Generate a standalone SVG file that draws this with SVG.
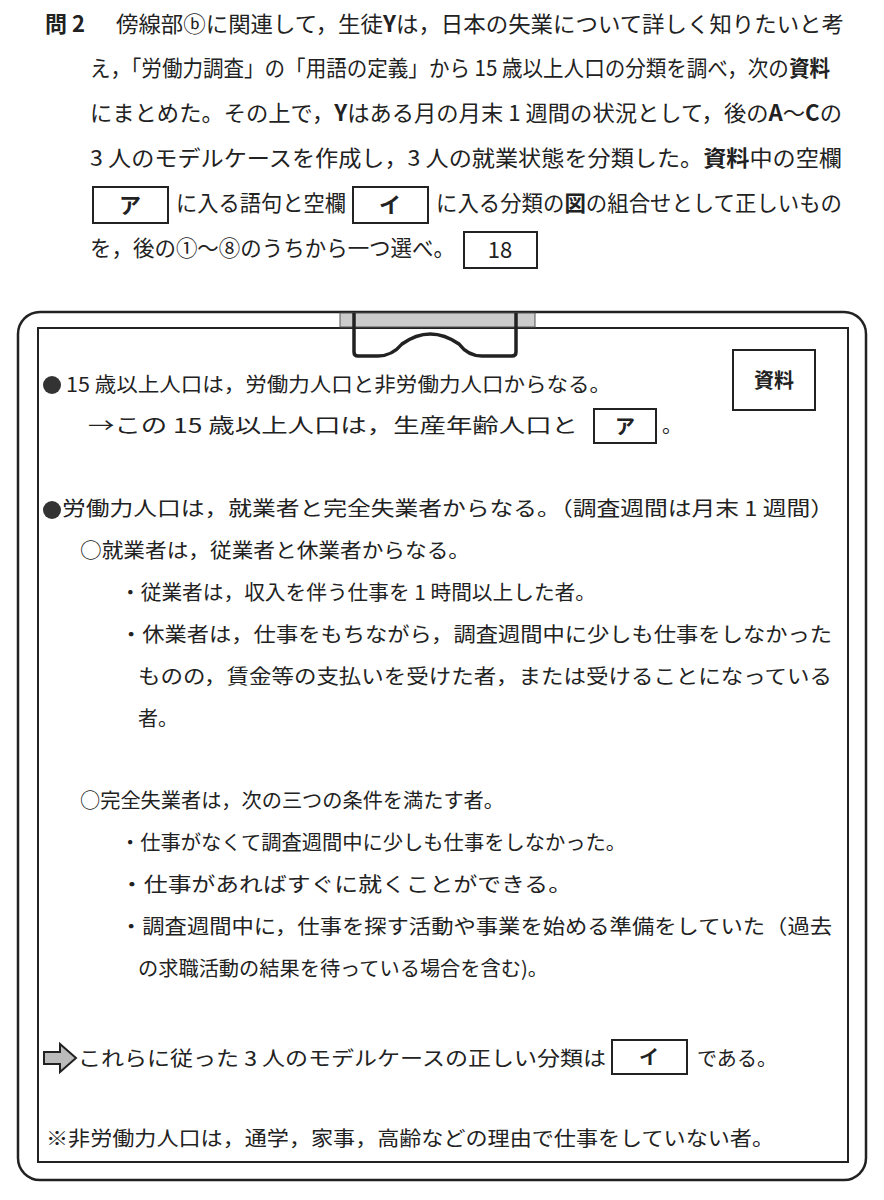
<svg xmlns="http://www.w3.org/2000/svg" width="884" height="1200" viewBox="0 0 884 1200">
<style>
text{font-family:"Noto Sans CJK JP","Noto Sans CJK SC",sans-serif;fill:#222;}
.h{font-size:22px;}
.b{font-size:20px;}
.bold{font-weight:bold;}
.bx{fill:#fff;stroke:#222;stroke-width:2;}
</style>
<rect width="884" height="1200" fill="#fff"/>
<g id="question">
<text class="h bold" x="45" y="32">問 2</text>
<text class="h" x="116" y="32" textLength="728" lengthAdjust="spacingAndGlyphs">傍線部ⓑに関連して，生徒<tspan class="bold">Y</tspan>は，日本の失業について詳しく知りたいと考</text>
<text class="h" x="90" y="76" textLength="740" lengthAdjust="spacingAndGlyphs">え，「労働力調査」の「用語の定義」から 15 歳以上人口の分類を調べ，次の<tspan class="bold">資料</tspan></text>
<text class="h" x="90" y="121" textLength="752" lengthAdjust="spacingAndGlyphs">にまとめた。その上で，<tspan class="bold">Y</tspan>はある月の月末 1 週間の状況として，後の<tspan class="bold">A</tspan>～<tspan class="bold">C</tspan>の</text>
<text class="h" x="90" y="166" textLength="752" lengthAdjust="spacingAndGlyphs">3 人のモデルケースを作成し，3 人の就業状態を分類した。<tspan class="bold">資料</tspan>中の空欄</text>
<rect class="bx" x="93" y="187" width="75" height="36"/>
<text class="h bold" x="130" y="213" text-anchor="middle">ア</text>
<text class="h" x="176" y="211" textLength="170" lengthAdjust="spacingAndGlyphs">に入る語句と空欄</text>
<rect class="bx" x="353" y="187" width="75" height="36"/>
<text class="h bold" x="390" y="213" text-anchor="middle">イ</text>
<text class="h" x="436" y="211" textLength="406" lengthAdjust="spacingAndGlyphs">に入る分類の<tspan class="bold">図</tspan>の組合せとして正しいもの</text>
<text class="h" x="90" y="256" textLength="365" lengthAdjust="spacingAndGlyphs">を，後の①～⑧のうちから一つ選べ。</text>
<rect class="bx" x="464" y="232" width="73" height="36"/>
<text class="h" x="500" y="258" text-anchor="middle">18</text>
</g>
<g id="board">
<rect x="18" y="312" width="848" height="868" rx="22" fill="none" stroke="#222" stroke-width="2.5"/>
<rect x="38" y="328" width="810" height="834" fill="none" stroke="#222" stroke-width="2"/>
<rect x="340" y="313" width="195" height="14" fill="#ccc" stroke="#555" stroke-width="1"/>
<path d="M354 313 V352 Q354 356 358 356 H378 Q392 356 402 344 Q430 324 459 344 Q468 356 482 356 H512 Q516 356 516 352 V313" fill="none" stroke="#222" stroke-width="3.5"/>
</g>
<g id="shiryo">
<rect class="bx" x="733" y="350" width="82" height="60"/>
<text class="b bold" x="774" y="388" text-anchor="middle">資料</text>
</g>
<g id="content" class="b">
<circle cx="52" cy="385" r="9" fill="#333"/>
<text class="b" x="66" y="392" textLength="545" lengthAdjust="spacingAndGlyphs">15 歳以上人口は，労働力人口と非労働力人口からなる。</text>
<text class="b" x="88" y="433" textLength="490" lengthAdjust="spacingAndGlyphs">→この 15 歳以上人口は，生産年齢人口と</text>
<rect class="bx" x="594" y="409" width="62" height="34"/>
<text class="b bold" x="625" y="434" text-anchor="middle">ア</text>
<text class="b" x="662" y="433">。</text>
<circle cx="52" cy="510" r="9" fill="#333"/>
<text class="b" x="62" y="516" textLength="772" lengthAdjust="spacingAndGlyphs">労働力人口は，就業者と完全失業者からなる。（調査週間は月末 1 週間）</text>
<text class="b" x="80" y="558" textLength="390" lengthAdjust="spacingAndGlyphs">○就業者は，従業者と休業者からなる。</text>
<text class="b" x="120" y="600" textLength="476" lengthAdjust="spacingAndGlyphs">・従業者は，収入を伴う仕事を 1 時間以上した者。</text>
<text class="b" x="120" y="642" textLength="712" lengthAdjust="spacingAndGlyphs">・休業者は，仕事をもちながら，調査週間中に少しも仕事をしなかった</text>
<text class="b" x="138" y="684" textLength="694" lengthAdjust="spacingAndGlyphs">ものの，賃金等の支払いを受けた者，または受けることになっている</text>
<text class="b" x="138" y="726">者。</text>
<text class="b" x="80" y="808" textLength="424" lengthAdjust="spacingAndGlyphs">○完全失業者は，次の三つの条件を満たす者。</text>
<text class="b" x="120" y="850" textLength="506" lengthAdjust="spacingAndGlyphs">・仕事がなくて調査週間中に少しも仕事をしなかった。</text>
<text class="b" x="120" y="892" textLength="452" lengthAdjust="spacingAndGlyphs">・仕事があればすぐに就くことができる。</text>
<text class="b" x="120" y="934" textLength="712" lengthAdjust="spacingAndGlyphs">・調査週間中に，仕事を探す活動や事業を始める準備をしていた（過去</text>
<text class="b" x="138" y="976" textLength="410" lengthAdjust="spacingAndGlyphs">の求職活動の結果を待っている場合を含む)。</text>
<path d="M44 1052 H60 V1044 L76 1058 L60 1072 V1064 H44 Z" fill="#bbb" stroke="#222" stroke-width="2"/>
<text class="b" x="78" y="1066" textLength="528" lengthAdjust="spacingAndGlyphs">これらに従った 3 人のモデルケースの正しい分類は</text>
<rect class="bx" x="612" y="1040" width="75" height="34"/>
<text class="b bold" x="649" y="1065" text-anchor="middle">イ</text>
<text class="b" x="697" y="1066" textLength="80" lengthAdjust="spacingAndGlyphs">である。</text>
<text class="b" x="46" y="1146" textLength="728" lengthAdjust="spacingAndGlyphs">※非労働力人口は，通学，家事，高齢などの理由で仕事をしていない者。</text>
</g>
</svg>
